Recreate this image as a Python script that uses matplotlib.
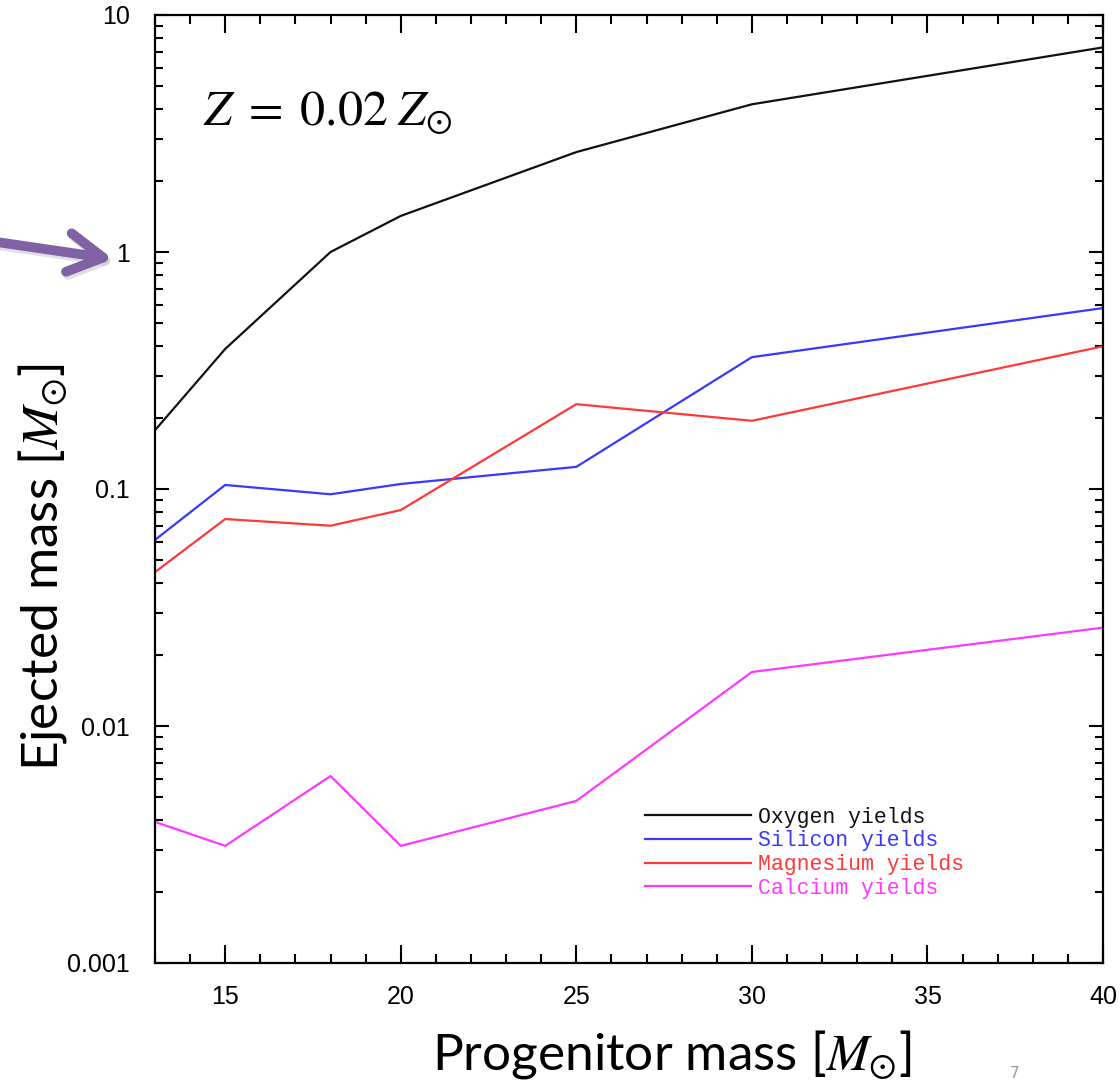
import numpy as np
import matplotlib.pyplot as plt
from matplotlib.patches import FancyArrowPatch
from matplotlib.ticker import FixedLocator, LogLocator, NullFormatter, FixedFormatter

plt.rcParams['mathtext.fontset'] = 'stix'

# progenitor masses (solar masses)
mass = [13, 15, 18, 20, 25, 30, 40]

# ejected masses
oxygen = [0.177, 0.39, 1.0, 1.42, 2.64, 4.2, 7.3]
silicon = [0.061, 0.104, 0.095, 0.105, 0.124, 0.36, 0.58]
magnesium = [0.0446, 0.0747, 0.070, 0.0815, 0.228, 0.194, 0.40]
calcium = [0.00394, 0.00312, 0.00615, 0.00312, 0.00483, 0.0169, 0.026]

series = [
    ("Oxygen yields", oxygen, "#111111"),
    ("Silicon yields", silicon, "#3838ff"),
    ("Magnesium yields", magnesium, "#ff3838"),
    ("Calcium yields", calcium, "#ff38ff"),
]

ytick_vals = [0.001, 0.01, 0.1, 1, 10]
ytick_labels = ["0.001", "0.01", "0.1", "1", "10"]
xtick_vals = [15, 20, 25, 30, 35, 40]

W, H = 1120, 1081
fig = plt.figure(figsize=(W / 100, H / 100), dpi=100)
ax = fig.add_axes([155 / W, 1 - 963 / H, (1103 - 155) / W, (963 - 15) / H])

for name, vals, col in series:
    ax.plot(mass, vals, color=col, lw=1.6, label=name)

ax.set_yscale('log')
ax.set_xlim(13, 40)
ax.set_ylim(0.001, 10)

ax.xaxis.set_major_locator(FixedLocator(xtick_vals))
ax.xaxis.set_minor_locator(FixedLocator(np.arange(13, 41, 1)))
ax.yaxis.set_major_locator(FixedLocator(ytick_vals))
ax.yaxis.set_major_formatter(FixedFormatter(ytick_labels))
ax.yaxis.set_minor_locator(LogLocator(base=10, subs=np.arange(2, 10)))
ax.yaxis.set_minor_formatter(NullFormatter())

ax.tick_params(which='both', direction='in', top=True, right=True, width=1.5,
               labelsize=18)
ax.tick_params(axis='x', which='major', length=13, pad=16)
ax.tick_params(axis='x', which='minor', length=6.5)
ax.tick_params(axis='y', which='major', length=10, pad=18)
ax.tick_params(axis='y', which='minor', length=6)
for lab in ax.get_xticklabels() + ax.get_yticklabels():
    lab.set_fontfamily('Liberation Sans')
for sp in ax.spines.values():
    sp.set_linewidth(1.6)

ax.set_xlabel(r"Progenitor mass [$M_{\odot}$]", fontsize=37, family='Lato')
ax.xaxis.set_label_coords(0.545, -0.069)
ax.set_ylabel(r"Ejected mass [$M_{\odot}$]", fontsize=37, family='Lato')
ax.yaxis.set_label_coords(-0.09, 0.418)

ax.text(0.0506, 0.884, r"$Z\;=\;0.02\;Z_{\odot}$", transform=ax.transAxes,
        fontsize=36, va='baseline', ha='left')

# legend: short line then coloured monospace text
leg = ax.legend(loc='upper left', bbox_to_anchor=(0.517, 0.165), frameon=False,
                borderpad=0, borderaxespad=0,
                handlelength=4.9, handletextpad=0.33, labelspacing=0.13,
                prop={'family': 'Liberation Mono', 'size': 15.5})
for txt, (_, _, col) in zip(leg.get_texts(), series):
    txt.set_color(col)

# purple pointer toward the "1" tick label
arrow_kw = dict(transform=fig.transFigure, mutation_scale=10,
                arrowstyle='->,head_length=2.5,head_width=1.4',
                lw=7, capstyle='round', joinstyle='round', shrinkA=0, shrinkB=0)
fig.patches.append(FancyArrowPatch((-10 / W, 1 - 244 / H), (115 / W, 1 - 262 / H),
                                   color='#cfc8d8', alpha=0.6, **arrow_kw))
fig.patches.append(FancyArrowPatch((-10 / W, 1 - 241 / H), (113 / W, 1 - 259 / H),
                                   color='#7f62a3', **arrow_kw))

fig.text(1015 / W, 1 - 1081 / H, "7", color='#999999', fontsize=11, ha='center',
         va='bottom')

fig.savefig("out.png", dpi=100)
